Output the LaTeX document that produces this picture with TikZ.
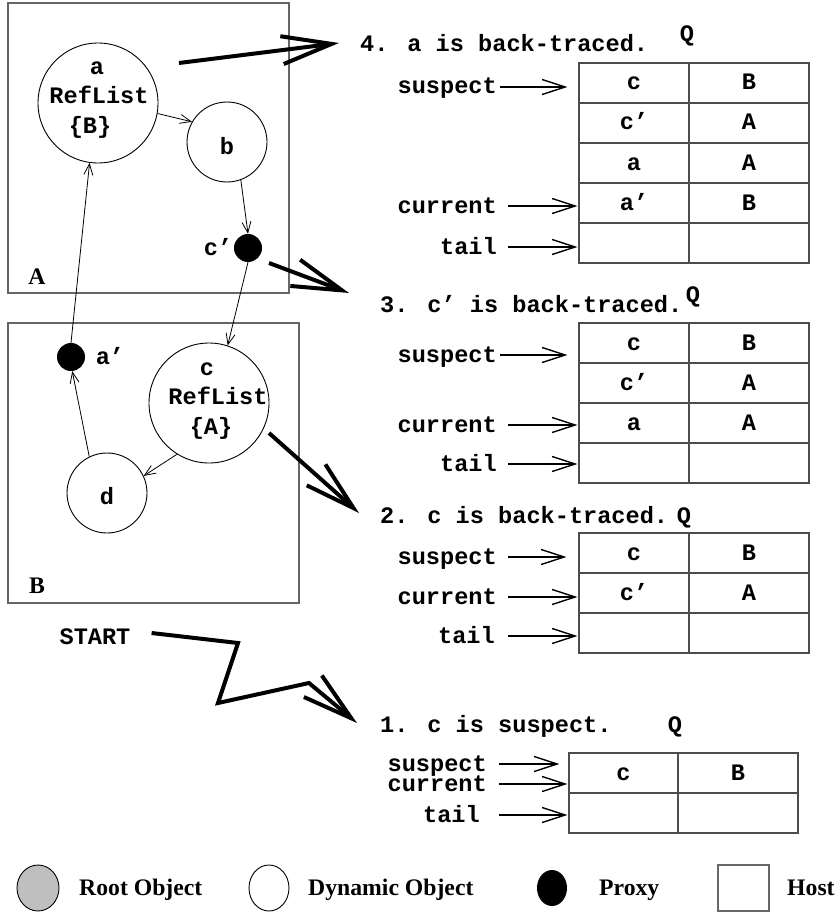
\documentclass[tikz,border=0pt]{standalone}
\usepackage{fontspec}
\setmainfont{Liberation Serif}
\newfontfamily\mono{Liberation Mono}
\usetikzlibrary{arrows.meta,calc}
\begin{document}
\begin{tikzpicture}[x=1pt,y=-1pt,
  hostbox/.style={draw=black!60,line width=1.3pt,inner sep=0pt},
  mt/.style={font=\mono\bfseries\fontsize{23.6pt}{28pt}\selectfont,inner sep=0pt,text height=14pt,text depth=0pt},
  st/.style={font=\bfseries\fontsize{23.7pt}{28pt}\selectfont,inner sep=0pt,text height=15pt,text depth=0pt},
  obj/.style={circle,draw,line width=0.9pt,inner sep=0pt,minimum size=#1},
  proxy/.style={circle,fill=black,inner sep=0pt,minimum size=28pt},
  ref/.style={line width=0.8pt,-{Straight Barb[length=11pt,width=9pt]}},
  ptr/.style={line width=1.4pt,-{Straight Barb[length=23pt,width=15pt]}},
  bigarrow/.style={line width=4pt,line join=miter,-{Straight Barb[length=50pt,width=28pt]}},
  cell/.style={mt,draw=black!70,line width=1.2pt,minimum height=40pt,minimum width=#1},
]
\useasboundingbox (0,0) rectangle (840,915);

% ---------- hosts ----------
\node[hostbox,minimum width=281pt,minimum height=290pt] (hostA) at (148.5,148) {};
\node[hostbox,minimum width=291pt,minimum height=280pt] (hostB) at (153.5,463) {};
\node[st] (labA) at (37,277) {A};
\node[st] (labB) at (37,586) {B};

% ---------- objects ----------
\node[obj=120pt] (a) at (98,103) {};
\node[mt] (a-n) at (97,68) {a};
\node[mt] (a-r) at (99,97) {RefList};
\node[mt] (a-s) at (90,127) {\{B\}};

\node[obj=80pt] (b) at (227,142) {};
\node[mt] (b-n) at (227,147) {b};

\node[proxy] (cp) at (248,248) {};
\node[mt] (cp-n) at (218,248) {c’};

\node[obj=120pt] (c) at (209,403) {};
\node[mt] (c-n) at (207,368) {c};
\node[mt] (c-r) at (218,397) {RefList};
\node[mt] (c-s) at (211,427) {\{A\}};

\node[obj=80pt] (d) at (107,493) {};
\node[mt] (d-n) at (107,497) {d};

\node[proxy] (ap) at (71,357) {};
\node[mt] (ap-n) at (110,357) {a’};

% ---------- references ----------
\draw[ref] (a.-10) -- (b.150);
\draw[ref] (b.-70) -- (cp.north);
\draw[ref] (cp.south) -- (c.72);
\draw[ref] (c.-122) -- (d.25);
\draw[ref] (d.116) -- (ap.-85);
\draw[ref] (ap.north) -- (a.-98);

% ---------- step 4 ----------
\node[mt,anchor=west] (s4) at (360,45) {4. a is back-traced.};
\node[mt] (q4) at (687,35) {Q};
\node[cell=110pt] (t4a1) at (634,83) {c};
\node[cell=120pt] (t4b1) at (749,83) {B};
\node[cell=110pt] (t4a2) at (634,123) {c’};
\node[cell=120pt] (t4b2) at (749,123) {A};
\node[cell=110pt] (t4a3) at (634,163) {a};
\node[cell=120pt] (t4b3) at (749,163) {A};
\node[cell=110pt] (t4a4) at (634,203) {a’};
\node[cell=120pt] (t4b4) at (749,203) {B};
\node[cell=110pt] (t4a5) at (634,243) {};
\node[cell=120pt] (t4b5) at (749,243) {};
\node[mt,anchor=east] (l4s) at (497,87) {suspect};
\node[mt,anchor=east] (l4c) at (497,206) {current};
\node[mt,anchor=east] (l4t) at (497,247) {tail};
\draw[ptr] ($(l4s.east)+(3,0)$) -- ($(l4s.east -| t4a1.west)+(-11,0)$);
\draw[ptr] ($(l4c.east)+(11,0)$) -- ($(l4c.east -| t4a4.west)+(-1,0)$);
\draw[ptr] ($(l4t.east)+(11,0)$) -- ($(l4t.east -| t4a5.west)+(-1,0)$);

% ---------- step 3 ----------
\node[mt,anchor=west] (s3) at (380,305) {3. c’ is back-traced.};
\node[mt] (q3) at (693,295) {Q};
\node[cell=110pt] (t3a1) at (634,343) {c};
\node[cell=120pt] (t3b1) at (749,343) {B};
\node[cell=110pt] (t3a2) at (634,383) {c’};
\node[cell=120pt] (t3b2) at (749,383) {A};
\node[cell=110pt] (t3a3) at (634,423) {a};
\node[cell=120pt] (t3b3) at (749,423) {A};
\node[cell=110pt] (t3a4) at (634,463) {};
\node[cell=120pt] (t3b4) at (749,463) {};
\node[mt,anchor=east] (l3s) at (497,355) {suspect};
\node[mt,anchor=east] (l3c) at (497,425) {current};
\node[mt,anchor=east] (l3t) at (497,464) {tail};
\draw[ptr] ($(l3s.east)+(3,0)$) -- ($(l3s.east -| t3a1.west)+(-11,0)$);
\draw[ptr] ($(l3c.east)+(11,0)$) -- ($(l3c.east -| t3a3.west)+(-1,0)$);
\draw[ptr] ($(l3t.east)+(11,0)$) -- ($(l3t.east -| t3a4.west)+(-1,0)$);

% ---------- step 2 ----------
\node[mt,anchor=west] (s2) at (380,516) {2. c is back-traced.};
\node[mt] (q2) at (684,516) {Q};
\node[cell=110pt] (t2a1) at (634,553) {c};
\node[cell=120pt] (t2b1) at (749,553) {B};
\node[cell=110pt] (t2a2) at (634,593) {c’};
\node[cell=120pt] (t2b2) at (749,593) {A};
\node[cell=110pt] (t2a3) at (634,633) {};
\node[cell=120pt] (t2b3) at (749,633) {};
\node[mt,anchor=east] (l2s) at (497,557) {suspect};
\node[mt,anchor=east] (l2c) at (497,597) {current};
\node[mt,anchor=east] (l2t) at (495,636) {tail};
\draw[ptr] ($(l2s.east)+(11,0)$) -- ($(l2s.east -| t2a1.west)+(-12,0)$);
\draw[ptr] ($(l2c.east)+(11,0)$) -- ($(l2c.east -| t2a2.west)+(-1,0)$);
\draw[ptr] ($(l2t.east)+(13,0)$) -- ($(l2t.east -| t2a3.west)+(-1,0)$);

% ---------- step 1 ----------
\node[mt,anchor=west] (s1) at (380,725) {1. c is suspect.};
\node[mt] (q1) at (675,725) {Q};
\node[cell=109pt] (t1a1) at (623.5,773) {c};
\node[cell=120pt] (t1b1) at (738,773) {B};
\node[cell=109pt] (t1a2) at (623.5,813) {};
\node[cell=120pt] (t1b2) at (738,813) {};
\node[mt,anchor=east] (l1s) at (487,764) {suspect};
\node[mt,anchor=east] (l1c) at (487,784) {current};
\node[mt,anchor=east] (l1t) at (480,815) {tail};
\draw[ptr] ($(l1s.east)+(12,0)$) -- ($(l1s.east -| t1a1.west)+(-9,0)$);
\draw[ptr] ($(l1c.east)+(12,0)$) -- ($(l1c.east -| t1a1.west)+(-1,0)$);
\draw[ptr] ($(l1t.east)+(19,0)$) -- ($(l1t.east -| t1a2.west)+(-1,0)$);

% ---------- transitions between steps ----------
\node[mt] (start) at (95,637) {START};
\coordinate (z1) at (238,643);
\coordinate (z2) at (218,703);
\coordinate (z3) at (309,683);
\coordinate (z4) at (357,723);
\draw[bigarrow] ($(start.east)+(21,-4)$) -- (z1) -- (z2) -- (z3) -- (z4);

\coordinate (k2s) at (269,433);
\coordinate (k2e) at (359,513);
\draw[bigarrow] (k2s) -- (k2e);
\coordinate (k3s) at (269,263);
\coordinate (k3e) at (349,293);
\draw[bigarrow] (k3s) -- (k3e);
\coordinate (k4s) at (179,63);
\coordinate (k4e) at (339,43);
\draw[bigarrow] (k4s) -- (k4e);

% ---------- legend ----------
\draw[line width=0.9pt,fill=black!25] (38,888) ellipse [x radius=21,y radius=23];
\node[st,anchor=west] (lg1) at (79,888) {Root Object};
\draw[line width=0.9pt] (269,888) ellipse [x radius=20,y radius=23];
\node[st,anchor=west] (lg2) at (308,888) {Dynamic Object};
\fill (552,888) ellipse [x radius=15,y radius=18];
\node[st,anchor=west] (lg3) at (599,888) {Proxy};
\draw[hostbox] (718,865) rectangle (769,911);
\node[st,anchor=west] (lg4) at (787,888) {Host};
\end{tikzpicture}
\end{document}
